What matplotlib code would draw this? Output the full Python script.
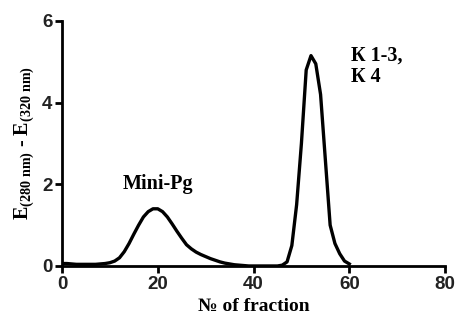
import matplotlib.pyplot as plt

plt.rcParams['mathtext.fontset'] = 'custom'
plt.rcParams['mathtext.rm'] = 'Liberation Serif:bold'
plt.rcParams['mathtext.it'] = 'Liberation Serif:bold'
plt.rcParams['mathtext.bf'] = 'Liberation Serif:bold'

fraction = list(range(0, 61))
absorb = [0.06, 0.06, 0.05, 0.04, 0.04, 0.04, 0.04, 0.04, 0.05, 0.06,
          0.08, 0.12, 0.2, 0.35, 0.55, 0.78, 1.0, 1.2, 1.33, 1.4,
          1.4, 1.33, 1.2, 1.03, 0.85, 0.68, 0.52, 0.42, 0.34, 0.28,
          0.23, 0.18, 0.14, 0.1, 0.07, 0.05, 0.03, 0.02, 0.01, 0.0,
          0.0, 0.0, 0.0, 0.0, 0.0, 0.0, 0.02, 0.1, 0.5, 1.5,
          3.0, 4.8, 5.15, 4.95, 4.2, 2.6, 1.0, 0.55, 0.3, 0.12,
          0.05]

xticks = [0, 20, 40, 60, 80]
yticks = [0, 2, 4, 6]

fig = plt.figure(figsize=(4.56, 3.22), dpi=100)
ax = fig.add_axes([0.136, 0.174, 0.84, 0.761])
ax.plot(fraction, absorb, color='black', lw=2.4, solid_joinstyle='round')

ax.set_xlim(0, 80)
ax.set_ylim(0, 6)
ax.set_xticks(xticks)
ax.set_yticks(yticks)
for s in ['top', 'right']:
    ax.spines[s].set_visible(False)
for s in ['left', 'bottom']:
    ax.spines[s].set_linewidth(2)
ax.tick_params(width=2, length=5, labelsize=13.5, pad=2)
for lab in ax.get_xticklabels() + ax.get_yticklabels():
    lab.set_fontfamily('Liberation Sans')
    lab.set_fontweight('bold')
    lab.set_color('#222222')

ax.set_xlabel('№ of fraction', fontfamily='Liberation Serif', fontweight='bold',
              fontsize=14, labelpad=4)
ax.set_ylabel(r'E$_{(280\ nm)}$ - E$_{(320\ nm)}$', fontfamily='Liberation Serif',
              fontweight='bold', fontsize=14.5, labelpad=4)

ax.text(20, 2.0, 'Mini-Pg', ha='center', va='center', fontfamily='Liberation Serif',
        fontweight='bold', fontsize=14.5)
ax.text(60.4, 5.4, 'К 1-3,\nК 4', ha='left', va='top', fontfamily='Liberation Serif',
        fontweight='bold', fontsize=14.5, linespacing=1.1)

plt.savefig('out.png', dpi=100)
